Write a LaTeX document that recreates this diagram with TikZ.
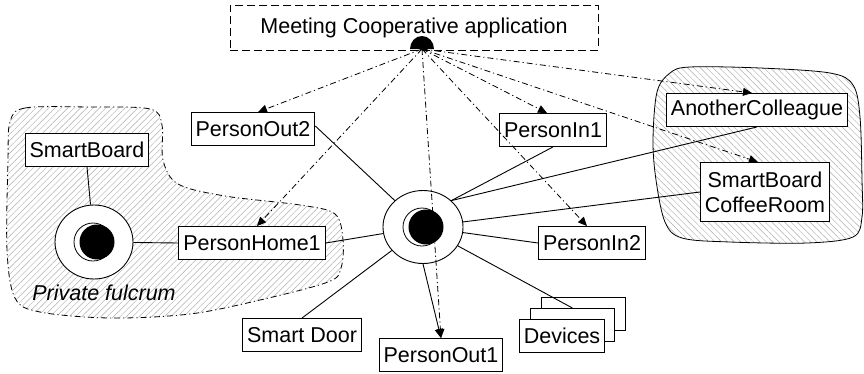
\documentclass[tikz,border=0pt]{standalone}
\usepackage{fontspec}
\setmainfont{Liberation Sans}
\usetikzlibrary{shapes.geometric,arrows.meta,patterns.meta}
\begin{document}
\begin{tikzpicture}[x=1pt,y=-1pt,
  lbl/.style={font=\fontsize{21.5}{25}\selectfont},
  box/.style={draw,fill=white,line width=0.9pt,lbl,inner xsep=4.5pt,inner ysep=0pt,minimum height=33pt,align=center},
  blank/.style={draw,fill=white,line width=0.9pt,minimum width=84pt,minimum height=33pt,inner sep=0pt},
  fulcrum/.style={draw,fill=white,ellipse,line width=0.9pt,inner sep=0pt,minimum width=80pt,minimum height=73pt},
  link/.style={line width=0.9pt},
  tip/.style={-{Triangle[length=9pt,width=8pt]}},
  notify/.style={line width=0.8pt,dash pattern=on 6pt off 3pt on 1.2pt off 3pt,tip},
  zone/.style={line width=0.8pt,smooth cycle,tension=0.55},
  hatch/.style={pattern={Lines[angle=#1,distance=4.5pt,line width=0.45pt]},pattern color=black!32},
]
\useasboundingbox (0,0) rectangle (864,373);

% hatched zones
\draw[zone,dash pattern=on 6pt off 3pt on 1.2pt off 3pt,hatch=45]
  plot coordinates {(10,122) (25,108) (90,107) (150,109) (162,125) (163,160) (178,184)
    (225,196) (300,205) (335,214) (343,240) (341,268) (328,282) (260,300) (190,314)
    (110,318) (40,312) (15,298) (7,250) (8,160)};
\draw[zone,hatch=-45]
  plot coordinates {(670,73) (690,67) (760,68) (830,73) (853,85) (860,117) (862,180)
    (862,217) (853,237) (807,243) (730,242) (682,238) (665,222) (656,180) (653,140) (657,92)};

% application box
\node[draw,dash pattern=on 8pt off 4pt,line width=0.9pt,fill=white,lbl,
      minimum width=368pt,minimum height=45pt] (app) at (414,27.5) {Meeting Cooperative application};
\coordinate (src) at (422,49);

% fulcra
\node[fulcrum] (cf) at (423,227) {};
\node[fulcrum,minimum width=78pt,minimum height=74pt] (lf) at (94,242) {};
\foreach \f in {cf,lf}{
  \draw[line width=0.8pt] ([xshift=-1pt]\f.center) circle (19pt);
  \fill ([xshift=3pt]\f.center) circle (17.5pt);
}

% entities
\node[box] (po2) at (253,129) {PersonOut2};
\node[box] (sb)  at (87,150)  {SmartBoard};
\node[box] (ph1) at (252,243) {PersonHome1};
\node[box] (pi1) at (553,130) {PersonIn1};
\node[box] (pi2) at (592,243) {PersonIn2};
\node[box] (ac)  at (757,110) {AnotherColleague};
\node[box,minimum height=59pt] (sbc) at (765,192) {SmartBoard\\CoffeeRoom};
\node[box] (sd)  at (302,335) {Smart Door};
\node[box] (po1) at (441,355) {PersonOut1};
\node[blank] (dev3) at (583,314) {};
\node[blank] (dev2) at (572.5,325) {};
\node[box,minimum width=84pt] (dev) at (562,335.5) {Devices};

\node[lbl,font=\fontsize{21.5}{25}\selectfont\itshape] (pf) at (104,293) {Private fulcrum};

% links to the fulcra
\draw[link] (sb.south) -- (lf);
\draw[link] (ph1.west) -- (lf);
\draw[link] ([yshift=3pt]po2.east) -- (cf);
\draw[link] (ph1.east) -- (cf);
\draw[link] (sd.north) -- (cf);
\draw[link] (dev2.north) -- (cf);
\draw[link] (pi2.west) -- (cf);
\draw[link] (sbc.west) -- (cf);
\draw[link] (pi1.south) -- (cf.43);
\draw[link] (ac.south) -- (cf.43);
\draw[link,tip] (cf.south) -- (po1.north);

% notifications from the application
\draw[notify] (src) -- ([xshift=5pt]po2.north);
\draw[notify] (src) -- ([xshift=5pt]ph1.north);
\draw[notify] (src) -- (po1.north);
\draw[notify] (src) -- ([xshift=-6pt]pi1.north);
\draw[notify] (src) -- ([xshift=-5pt]pi2.north);
\draw[notify] (src) -- ([xshift=-5pt]ac.north);
\draw[notify] (src) -- ([xshift=-7pt]sbc.north);

% application port
\fill ([xshift=-12pt]src) arc[start angle=180,end angle=0,x radius=12pt,y radius=13pt] -- cycle;
\end{tikzpicture}
\end{document}
